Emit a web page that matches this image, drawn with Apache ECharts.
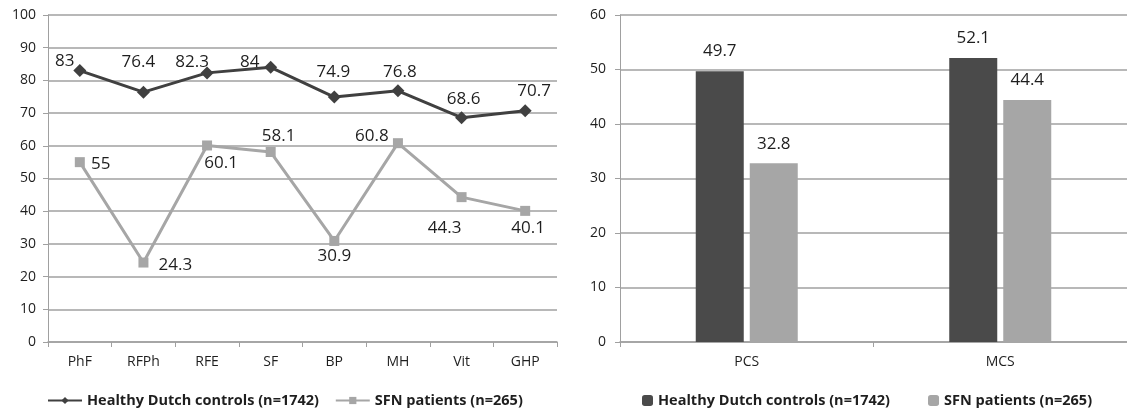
<!DOCTYPE html>
<html>
<head>
<meta charset="utf-8">
<script src="https://cdn.jsdelivr.net/npm/echarts@6/dist/echarts.min.js"></script>
<style>html,body{margin:0;padding:0;background:#fff}#c{width:1127px;height:411px}</style>
</head>
<body>
<div id="c"></div>
<script>
const categories = ['PhF', 'RFPh', 'RFE', 'SF', 'BP', 'MH', 'Vit', 'GHP'];
const healthyScores = [83, 76.4, 82.3, 84, 74.9, 76.8, 68.6, 70.7];
const sfnScores = [55, 24.3, 60.1, 58.1, 30.9, 60.8, 44.3, 40.1];
const summaryCategories = ['PCS', 'MCS'];
const healthySummary = [49.7, 52.1];
const sfnSummary = [32.8, 44.4];
const seriesNames = ['Healthy Dutch controls (n=1742)', 'SFN patients (n=265)'];

// label placement (style only)
const healthyLabelOffsets = [[-15, -9], [-5, -30], [-15, -11], [-21, -5], [-1, -25], [2, -19], [2, -19], [9, -20]];
const sfnLabelOffsets = [[21, 2], [32, 3], [14, 18], [8, -16], [0, 15], [-26, -7], [-17, 31], [3, 17]];

const txt = '#1e1e1e';
const gridCol = '#a0a0a0';
const font = 'Open Sans';

function withLabels(values, offsets) {
  return values.map((v, i) => ({
    value: v,
    label: { offset: offsets[i] }
  }));
}

const valueAxisCommon = {
  type: 'value', min: 0, interval: 10,
  axisLine: { show: true, lineStyle: { color: gridCol, width: 1 } },
  axisTick: { show: true, length: 5, lineStyle: { color: gridCol } },
  splitLine: { lineStyle: { color: gridCol, width: 1.5 } },
  axisLabel: { color: txt, fontSize: 14, fontFamily: font, margin: 12 }
};
const catAxisCommon = {
  type: 'category',
  axisLine: { lineStyle: { color: gridCol, width: 1.5 } },
  axisTick: { show: true, length: 5, lineStyle: { color: gridCol } },
  axisLabel: { color: txt, fontSize: 14, fontFamily: font, margin: 13 }
};

const lineLabel = {
  show: true, position: 'inside', color: txt, fontSize: 17, fontFamily: font,
  align: 'center', verticalAlign: 'middle'
};
const legendText = { color: txt, fontSize: 14.5, fontWeight: 'bold', fontFamily: font };

const option = {
  animation: false,
  backgroundColor: '#fff',
  grid: [
    { left: 48, top: 15, width: 509, height: 327 },
    { left: 620, top: 15, width: 514, height: 327 }
  ],
  xAxis: [
    Object.assign({}, catAxisCommon, { gridIndex: 0, data: categories }),
    Object.assign({}, catAxisCommon, { gridIndex: 1, data: summaryCategories })
  ],
  yAxis: [
    Object.assign({}, valueAxisCommon, { gridIndex: 0, max: 100 }),
    Object.assign({}, valueAxisCommon, { gridIndex: 1, max: 60, axisLabel: Object.assign({}, valueAxisCommon.axisLabel, { margin: 14 }) })
  ],
  legend: [
    {
      left: 42, top: 388, itemWidth: 34, itemHeight: 9, itemGap: 12,
      textStyle: legendText,
      data: [seriesNames[0] + ' ', seriesNames[1] + ' ']
    },
    {
      left: 637, top: 388, itemWidth: 11, itemHeight: 11, itemGap: 38,
      textStyle: legendText,
      data: [seriesNames[0], seriesNames[1]]
    }
  ],
  series: [
    {
      name: seriesNames[0] + ' ', type: 'line', xAxisIndex: 0, yAxisIndex: 0,
      data: withLabels(healthyScores, healthyLabelOffsets),
      symbol: 'diamond', symbolSize: 13,
      lineStyle: { color: '#404040', width: 3 },
      itemStyle: { color: '#404040' },
      label: lineLabel, z: 3
    },
    {
      name: seriesNames[1] + ' ', type: 'line', xAxisIndex: 0, yAxisIndex: 0,
      data: withLabels(sfnScores, sfnLabelOffsets),
      symbol: 'rect', symbolSize: 10,
      lineStyle: { color: '#a6a6a6', width: 3 },
      itemStyle: { color: '#a6a6a6' },
      label: lineLabel, z: 2
    },
    {
      name: seriesNames[0], type: 'bar', xAxisIndex: 1, yAxisIndex: 1,
      data: healthySummary, barWidth: 48, barGap: '12.5%',
      itemStyle: { color: '#4a4a4a' },
      label: { show: true, position: 'top', distance: 11, color: txt, fontSize: 17, fontFamily: font }
    },
    {
      name: seriesNames[1], type: 'bar', xAxisIndex: 1, yAxisIndex: 1,
      data: sfnSummary, barWidth: 48, barGap: '12.5%',
      itemStyle: { color: '#a6a6a6' },
      label: { show: true, position: 'top', distance: 11, color: txt, fontSize: 17, fontFamily: font }
    }
  ]
};

const chart = echarts.init(document.getElementById('c'), null, { renderer: 'canvas' });
chart.setOption(option);
</script>
</body>
</html>
